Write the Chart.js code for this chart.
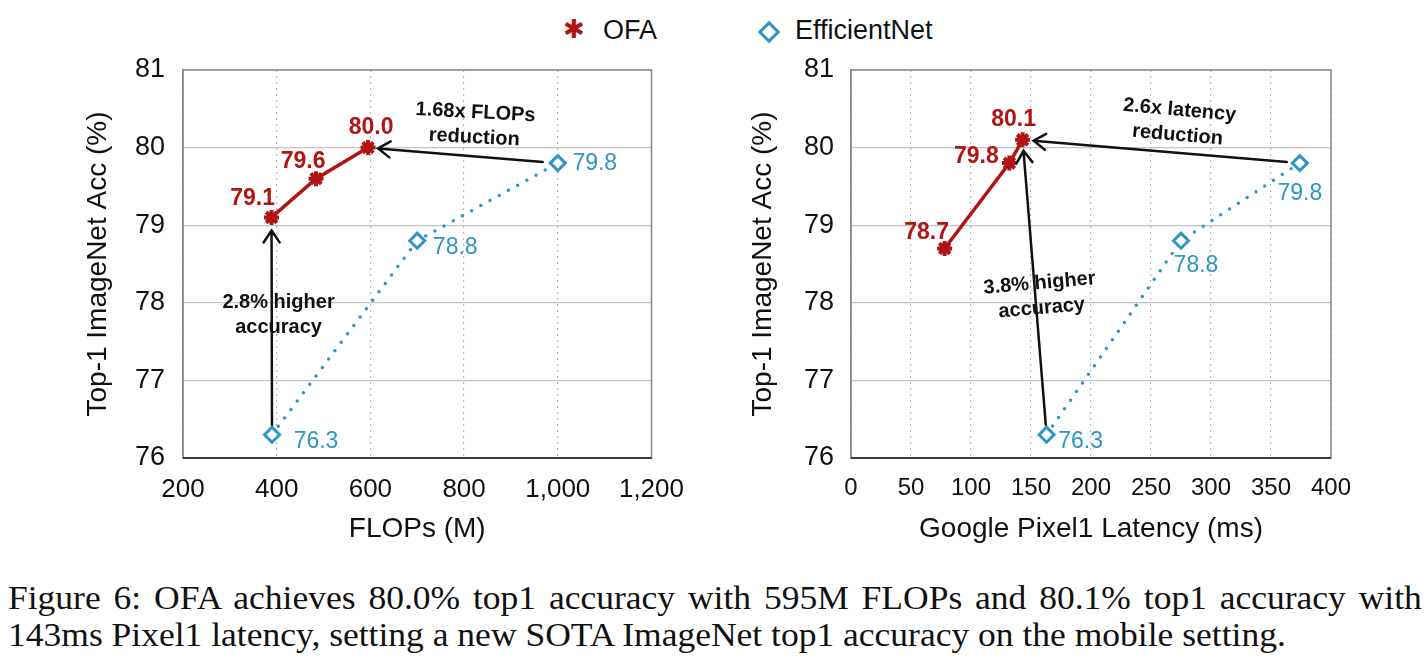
<!DOCTYPE html>
<html>
<head>
<meta charset="utf-8">
<script src="https://cdn.jsdelivr.net/npm/chart.js@4.4.1/dist/chart.umd.min.js"></script>
<style>
  body { margin: 0; background: #fff; width: 1428px; height: 670px; overflow: hidden; position: relative; font-family: "Liberation Sans", Arial, sans-serif; }
  canvas { position: absolute; top: 0; }
  #left { left: 0; }
  #right { left: 700px; }
  .lg { position: absolute; top: 13px; font-size: 27px; line-height: 34px; color: #111; }
  #lgStar { position: absolute; left: 563px; top: 12px; font-family: "DejaVu Sans"; font-weight: bold; font-size: 26px; line-height: 34px; color: #b01414; }
  #lgDiamond { position: absolute; left: 761px; top: 24px; width: 10px; height: 10px; border: 3px solid #2e95c4; transform: rotate(45deg); }
  .cap { position: absolute; left: 8px; width: 1314px; font-family: "Liberation Serif", "Times New Roman", serif; font-size: 33px; line-height: 37px; color: #111; white-space: nowrap; transform: scaleX(1.076); transform-origin: 0 0; }
  #cap1 { top: 580px; text-align: justify; text-align-last: justify; white-space: normal; }
  #cap2 { top: 617px; }
</style>
</head>
<body>
<span id="lgStar">✱</span><span class="lg" style="left:603px">OFA</span>
<span id="lgDiamond"></span><span class="lg" style="left:795px">EfficientNet</span>
<canvas id="left" width="700" height="560"></canvas>
<canvas id="right" width="728" height="560"></canvas>
<div class="cap" id="cap1">Figure 6: OFA achieves 80.0% top1 accuracy with 595M FLOPs and 80.1% top1 accuracy with</div>
<div class="cap" id="cap2">143ms Pixel1 latency, setting a new SOTA ImageNet top1 accuracy on the mobile setting.</div>
<script>
const accTicks = [76, 77, 78, 79, 80, 81];
const flopsTicks = [200, 400, 600, 800, 1000, 1200];
const latencyTicks = [0, 50, 100, 150, 200, 250, 300, 350, 400];

// left panel: FLOPs (M)
const ofaFlops = [389, 484, 595];
const ofaFlopsAcc = [79.1, 79.6, 80.0];
const effFlops = [390, 700, 1000];
const effFlopsAcc = [76.3, 78.8, 79.8];

// right panel: Pixel1 latency (ms)
const ofaLatency = [78, 132, 143];
const ofaLatencyAcc = [78.7, 79.8, 80.1];
const effLatency = [163, 275, 374];
const effLatencyAcc = [76.3, 78.8, 79.8];

const RED = '#b01414';
const BLUE = '#2e95c4';
const FONT = '"Liberation Sans", Arial, sans-serif';

const zip = (xs, ys) => xs.map((x, i) => ({ x: x, y: ys[i] }));

// value labels next to each point
const pointLabels = {
  id: 'pointLabels',
  afterDatasetsDraw(chart) {
    const ctx = chart.ctx;
    chart.data.datasets.forEach((ds, i) => {
      const meta = chart.getDatasetMeta(i);
      ctx.save();
      ctx.font = ds.labelFont;
      ctx.fillStyle = ds.borderColor;
      ctx.textAlign = 'center';
      ctx.textBaseline = 'middle';
      meta.data.forEach((pt, j) => {
        const off = ds.labelOffsets[j];
        ctx.fillText(ds.data[j].y.toFixed(1), pt.x + off[0], pt.y + off[1]);
      });
      ctx.restore();
    });
  }
};

// plot frame, arrows and bold notes
const notes = {
  id: 'notes',
  beforeDatasetsDraw(chart) {
    const { ctx, chartArea: a } = chart;
    ctx.save();
    ctx.strokeStyle = '#8a8a8a';
    ctx.lineWidth = 1.5;
    ctx.strokeRect(a.left, a.top, a.right - a.left, a.bottom - a.top);
    ctx.strokeStyle = '#222';
    ctx.beginPath();
    ctx.moveTo(a.left, a.bottom);
    ctx.lineTo(a.right, a.bottom);
    ctx.stroke();
    ctx.restore();
  },
  afterDatasetsDraw(chart) {
    const ctx = chart.ctx;
    const cfg = chart.options.plugins.notes;
    const pt = ref => chart.getDatasetMeta(ref[0]).data[ref[1]];
    ctx.save();
    ctx.strokeStyle = '#111';
    ctx.lineWidth = 2.5;
    ctx.lineCap = 'round';
    cfg.arrows.forEach(ar => {
      const p1 = pt(ar.from), p2 = pt(ar.to);
      const len = Math.hypot(p2.x - p1.x, p2.y - p1.y);
      const ux = (p2.x - p1.x) / len, uy = (p2.y - p1.y) / len;
      const sx = p1.x + ux * ar.trimStart, sy = p1.y + uy * ar.trimStart;
      const ex = p2.x - ux * ar.trimEnd, ey = p2.y - uy * ar.trimEnd;
      ctx.beginPath();
      ctx.moveTo(sx, sy);
      ctx.lineTo(ex, ey);
      ctx.moveTo(ex - ux * 12 - uy * 8, ey - uy * 12 + ux * 8);
      ctx.lineTo(ex, ey);
      ctx.lineTo(ex - ux * 12 + uy * 8, ey - uy * 12 - ux * 8);
      ctx.stroke();
    });
    ctx.font = 'bold 20px ' + FONT;
    ctx.fillStyle = '#111';
    ctx.textAlign = 'center';
    ctx.textBaseline = 'middle';
    cfg.texts.forEach(t => {
      const x = chart.scales.x.getPixelForValue(t.x);
      const y = chart.scales.y.getPixelForValue(t.y);
      ctx.save();
      ctx.translate(x, y);
      ctx.rotate(t.rotate * Math.PI / 180);
      t.lines.forEach((line, k) => {
        ctx.fillText(line, 0, (k - (t.lines.length - 1) / 2) * 25);
      });
      ctx.restore();
    });
    ctx.restore();
  }
};

function makeChart(id, c) {
  return new Chart(document.getElementById(id), {
    type: 'scatter',
    data: {
      datasets: [
        {
          label: 'OFA',
          data: zip(c.ofaX, c.ofaY),
          showLine: true,
          borderColor: RED,
          backgroundColor: RED,
          borderWidth: 3.5,
          pointStyle: 'star',
          pointRadius: 7.5,
          pointBorderWidth: 4,
          labelFont: 'bold 23px ' + FONT,
          labelOffsets: c.ofaOffsets
        },
        {
          label: 'EfficientNet',
          data: zip(c.effX, c.effY),
          showLine: true,
          borderColor: BLUE,
          backgroundColor: '#fff',
          borderWidth: 3.5,
          borderDash: [0, 10.5],
          borderCapStyle: 'round',
          pointStyle: 'rectRot',
          pointRadius: 7.5,
          pointBorderWidth: 3,
          labelFont: '23px ' + FONT,
          labelOffsets: c.effOffsets
        }
      ]
    },
    options: {
      responsive: false,
      animation: false,
      layout: { padding: { left: 0, right: c.padRight, top: 70, bottom: 0 } },
      plugins: {
        legend: { display: false },
        tooltip: { enabled: false },
        notes: { arrows: c.arrows, texts: c.texts }
      },
      scales: {
        x: {
          type: 'linear',
          min: c.xTicks[0],
          max: c.xTicks[c.xTicks.length - 1],
          afterBuildTicks: s => { s.ticks = c.xTicks.map(v => ({ value: v })); },
          afterFit: s => { s.height = 102; },
          grid: { color: '#b8b8b8', lineWidth: 1.2, drawTicks: false },
          border: { color: '#222', width: 1.5, dash: [2, 4] },
          ticks: {
            font: { family: FONT, size: c.xTickSize },
            color: '#111',
            padding: 16,
            maxRotation: 0,
            autoSkip: false,
            callback: v => v.toLocaleString('en-US')
          },
          title: {
            display: true,
            text: c.xTitle,
            font: { family: FONT, size: 28 },
            color: '#111',
            padding: { top: 0, bottom: 14 }
          }
        },
        y: {
          min: accTicks[0],
          max: accTicks[accTicks.length - 1],
          afterBuildTicks: s => { s.ticks = accTicks.map(v => ({ value: v })); },
          afterFit: s => { s.width = c.yWidth; },
          grid: { color: '#c4c4c4', lineWidth: 1.2, drawTicks: false },
          border: { color: '#8a8a8a', width: 1.5 },
          ticks: {
            font: { family: FONT, size: 27 },
            color: '#111',
            padding: c.yTickPad
          },
          title: {
            display: true,
            text: 'Top-1 ImageNet Acc (%)',
            font: { family: FONT, size: 28 },
            color: '#111',
            padding: { top: c.yTitlePad, bottom: 0 }
          }
        }
      }
    },
    plugins: [notes, pointLabels]
  });
}

makeChart('left', {
  ofaX: ofaFlops, ofaY: ofaFlopsAcc, effX: effFlops, effY: effFlopsAcc,
  xTicks: flopsTicks, xTitle: 'FLOPs (M)', xTickSize: 26,
  yWidth: 183, padRight: 42, yTickPad: 18, yTitlePad: 81,
  ofaOffsets: [[-19, -19], [-13, -17], [3, -20]],
  effOffsets: [[44, 7], [38, 7], [37, 1]],
  arrows: [
    { from: [1, 2], to: [0, 2], trimStart: 15, trimEnd: 10 },
    { from: [1, 0], to: [0, 0], trimStart: 10, trimEnd: 13 }
  ],
  texts: [
    { lines: ['1.68x FLOPs', 'reduction'], x: 823, y: 80.29, rotate: 3 },
    { lines: ['2.8% higher', 'accuracy'], x: 404, y: 77.84, rotate: 0 }
  ]
});

makeChart('right', {
  ofaX: ofaLatency, ofaY: ofaLatencyAcc, effX: effLatency, effY: effLatencyAcc,
  xTicks: latencyTicks, xTitle: 'Google Pixel1 Latency (ms)', xTickSize: 24,
  yWidth: 151, padRight: 97, yTickPad: 17, yTitlePad: 46,
  ofaOffsets: [[-18, -16], [-33, -6], [-9, -20]],
  effOffsets: [[34, 7], [15, 25], [0, 31]],
  arrows: [
    { from: [1, 2], to: [0, 2], trimStart: 13, trimEnd: 11 },
    { from: [1, 0], to: [0, 2], trimStart: 10, trimEnd: 11 }
  ],
  texts: [
    { lines: ['2.6x latency', 'reduction'], x: 273, y: 80.32, rotate: 5 },
    { lines: ['3.8% higher', 'accuracy'], x: 158, y: 78.09, rotate: -5 }
  ]
});
</script>
</body>
</html>
